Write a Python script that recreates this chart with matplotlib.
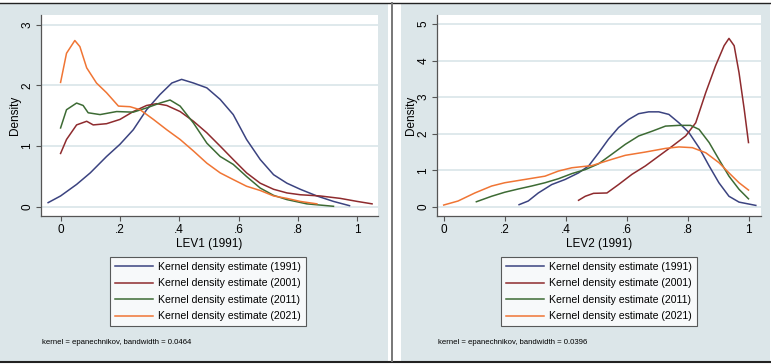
import matplotlib.pyplot as plt
from matplotlib.patches import Rectangle
from matplotlib.lines import Line2D

# ---- data ----
years = ["1991", "2001", "2011", "2021"]
colors = ["#3b4380", "#8e2b2e", "#3d6b34", "#f07534"]

# LEV1 (left panel)
lev1_x_1991 = [-0.042, 0.0, 0.054, 0.1, 0.155, 0.2, 0.245, 0.29, 0.335, 0.375, 0.408, 0.448, 0.493,
               0.538, 0.582, 0.627, 0.673, 0.718, 0.763, 0.808, 0.864, 0.92, 0.974]
lev1_y_1991 = [0.07, 0.18, 0.37, 0.56, 0.83, 1.03, 1.27, 1.6, 1.85, 2.04, 2.1, 2.04, 1.96,
               1.77, 1.52, 1.11, 0.78, 0.53, 0.39, 0.29, 0.18, 0.09, 0.02]
lev1_x_2001 = [0.0, 0.02, 0.054, 0.088, 0.11, 0.155, 0.2, 0.245, 0.29, 0.324, 0.358, 0.403, 0.448,
               0.493, 0.538, 0.582, 0.627, 0.673, 0.718, 0.763, 0.808, 0.875, 0.943, 1.0, 1.05]
lev1_y_2001 = [0.88, 1.11, 1.35, 1.41, 1.35, 1.37, 1.44, 1.57, 1.67, 1.7, 1.67, 1.57, 1.41,
               1.22, 1.0, 0.78, 0.56, 0.39, 0.29, 0.23, 0.2, 0.18, 0.14, 0.09, 0.05]
lev1_x_2011 = [0.0, 0.02, 0.054, 0.076, 0.093, 0.133, 0.189, 0.245, 0.29, 0.335, 0.369, 0.403,
               0.448, 0.493, 0.538, 0.582, 0.627, 0.673, 0.718, 0.763, 0.83, 0.92]
lev1_y_2011 = [1.3, 1.6, 1.71, 1.67, 1.55, 1.52, 1.57, 1.56, 1.63, 1.71, 1.76, 1.66,
               1.38, 1.05, 0.83, 0.7, 0.5, 0.31, 0.19, 0.12, 0.05, 0.01]
lev1_x_2021 = [0.0, 0.02, 0.048, 0.065, 0.088, 0.121, 0.155, 0.195, 0.234, 0.268, 0.313, 0.358,
               0.403, 0.448, 0.493, 0.538, 0.582, 0.627, 0.673, 0.718, 0.763, 0.808, 0.864]
lev1_y_2021 = [2.05, 2.53, 2.74, 2.64, 2.29, 2.04, 1.88, 1.66, 1.65, 1.6, 1.44, 1.27,
               1.11, 0.92, 0.72, 0.56, 0.45, 0.34, 0.27, 0.18, 0.14, 0.09, 0.05]

# LEV2 (right panel)
lev2_x_1991 = [0.247, 0.277, 0.31, 0.354, 0.398, 0.442, 0.475, 0.508, 0.54, 0.573, 0.606, 0.639,
               0.672, 0.705, 0.738, 0.771, 0.804, 0.837, 0.87, 0.902, 0.935, 0.968, 1.023]
lev2_y_1991 = [0.06, 0.16, 0.38, 0.61, 0.75, 0.93, 1.12, 1.48, 1.85, 2.17, 2.39, 2.55,
               2.6, 2.6, 2.53, 2.3, 2.03, 1.62, 1.12, 0.66, 0.29, 0.13, 0.04]
lev2_x_2001 = [0.442, 0.464, 0.491, 0.535, 0.573, 0.617, 0.661, 0.705, 0.749, 0.793, 0.826, 0.859,
               0.891, 0.919, 0.935, 0.952, 0.968, 0.985, 0.999]
lev2_y_2001 = [0.18, 0.29, 0.37, 0.38, 0.61, 0.89, 1.12, 1.39, 1.66, 1.94, 2.3, 3.13,
               3.86, 4.41, 4.61, 4.41, 3.67, 2.67, 1.76]
lev2_x_2011 = [0.107, 0.157, 0.2, 0.245, 0.288, 0.332, 0.376, 0.42, 0.464, 0.508, 0.551, 0.595,
               0.639, 0.683, 0.727, 0.771, 0.809, 0.837, 0.87, 0.902, 0.935, 0.968, 0.999]
lev2_y_2011 = [0.14, 0.29, 0.4, 0.49, 0.57, 0.66, 0.77, 0.91, 1.02, 1.18, 1.44, 1.71,
               1.94, 2.07, 2.21, 2.23, 2.23, 2.12, 1.76, 1.3, 0.84, 0.48, 0.22]
lev2_x_2021 = [0.0, 0.047, 0.102, 0.157, 0.2, 0.266, 0.332, 0.376, 0.42, 0.486, 0.551, 0.595,
               0.661, 0.727, 0.771, 0.815, 0.859, 0.902, 0.935, 0.968, 0.999]
lev2_y_2021 = [0.05, 0.16, 0.38, 0.57, 0.66, 0.75, 0.84, 0.98, 1.07, 1.13, 1.3, 1.41,
               1.5, 1.6, 1.64, 1.62, 1.48, 1.21, 0.93, 0.66, 0.46]

lev1_series = [(lev1_x_1991, lev1_y_1991), (lev1_x_2001, lev1_y_2001),
               (lev1_x_2011, lev1_y_2011), (lev1_x_2021, lev1_y_2021)]
lev2_series = [(lev2_x_1991, lev2_y_1991), (lev2_x_2001, lev2_y_2001),
               (lev2_x_2011, lev2_y_2011), (lev2_x_2021, lev2_y_2021)]

x_ticks = [0, 0.2, 0.4, 0.6, 0.8, 1]
x_ticklabels = ["0", ".2", ".4", ".6", ".8", "1"]

BG = "#dce6e9"
GRID = "#dfe9ec"
FONT = ["Liberation Sans Narrow", "Liberation Sans", "DejaVu Sans"]

plt.rcParams["font.family"] = FONT

W, H = 771, 364
fig = plt.figure(figsize=(W / 100, H / 100), dpi=100)


def fx(px):
    return px / W


def fy(py):
    return 1 - py / H


# panel backgrounds and frame lines (behind the axes)
fig.patches.append(Rectangle((fx(0), fy(361)), fx(388), 358 / H, transform=fig.transFigure,
                             facecolor=BG, edgecolor="none", zorder=-5))
fig.patches.append(Rectangle((fx(401), fy(361)), fx(369), 358 / H, transform=fig.transFigure,
                             facecolor=BG, edgecolor="none", zorder=-5))
fig.lines.append(Line2D([0, 1], [fy(2.5), fy(2.5)], transform=fig.transFigure,
                        color="#222222", lw=1.0, zorder=-4))
fig.lines.append(Line2D([0, 1], [fy(362), fy(362)], transform=fig.transFigure,
                        color="#222222", lw=1.5, zorder=-4))
fig.lines.append(Line2D([fx(392), fx(392)], [fy(3), fy(361)], transform=fig.transFigure,
                        color="#777777", lw=1.4, zorder=-4))


def make_panel(rect, series, xlim, ylim, yticks, xlabel, note, note_x, leg_cx):
    ax = fig.add_axes(rect, zorder=2)
    ax.set_facecolor("white")
    for (xs, ys), c, yr in zip(series, colors, years):
        ax.plot(xs, ys, color=c, lw=1.1, label=f"Kernel density estimate ({yr})", zorder=3)
    ax.set_xlim(*xlim)
    ax.set_ylim(*ylim)
    ax.set_xticks(x_ticks)
    ax.set_xticklabels(x_ticklabels)
    ax.set_yticks(yticks)
    ax.set_yticklabels([str(t) for t in yticks], rotation=90, va="center")
    ax.grid(axis="y", color=GRID, lw=1.4, zorder=1)
    ax.set_axisbelow(True)
    for s in ["top", "right"]:
        ax.spines[s].set_visible(False)
    for s in ["left", "bottom"]:
        ax.spines[s].set_color("#555555")
        ax.spines[s].set_linewidth(0.9)
    ax.tick_params(length=3.5, width=0.8, color="#555555", labelsize=8.5, pad=2)
    ax.set_ylabel("Density", fontsize=8.5, labelpad=0.5)
    ax.set_xlabel(xlabel, fontsize=8.5, labelpad=2)
    leg = ax.legend(loc="upper center", bbox_to_anchor=(leg_cx, fy(257)),
                    bbox_transform=fig.transFigure, fontsize=7.6, frameon=True,
                    fancybox=False, edgecolor="#333333", handlelength=3.6,
                    labelspacing=0.62, borderpad=0.45, handletextpad=0.5,
                    borderaxespad=0)
    leg.get_frame().set_linewidth(0.8)
    fig.text(note_x, fy(343), note, fontsize=5.6, va="center", ha="left")
    return ax


make_panel([fx(41), fy(216), fx(337), (216 - 15) / H], lev1_series,
           (-0.066, 1.07), (-0.15, 3.16), [0, 1, 2, 3], "LEV1 (1991)",
           "kernel = epanechnikov, bandwidth = 0.0464", fx(42), fx(208))
make_panel([fx(437), fy(216), fx(324), (216 - 15) / H], lev2_series,
           (-0.022, 1.04), (-0.25, 5.25), [0, 1, 2, 3, 4, 5], "LEV2 (1991)",
           "kernel = epanechnikov, bandwidth = 0.0396", fx(438), fx(599))

fig.savefig("out.png", dpi=100)
